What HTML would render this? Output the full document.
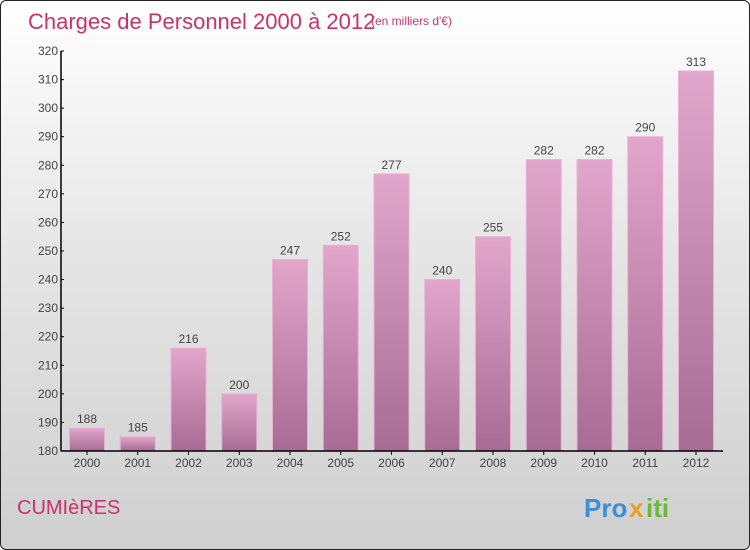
<!DOCTYPE html>
<html><head><meta charset="utf-8"><style>
body{margin:0;width:750px;height:550px;overflow:hidden;font-family:"Liberation Sans","DejaVu Sans",sans-serif}
#frame{position:absolute;left:0;top:0;width:748px;height:548px;border:1px solid #222;border-radius:6px;background:linear-gradient(#ffffff,#e6e6e6 45%,#cfcfcf);overflow:hidden}
</style></head><body>
<div id="frame">
<svg width="750" height="550" id="chart">
<defs>
<linearGradient id="bg" x1="0" y1="0" x2="0" y2="1"><stop offset="0" stop-color="#e2a6cb"/><stop offset="1" stop-color="#a86c94"/></linearGradient>
</defs>
<text x="27" y="28" font-size="22" fill="#c8336b">Charges de Personnel 2000 à 2012</text>
<text x="370" y="24" font-size="12" fill="#c8336b">(en milliers d'€)</text>
<text x="16" y="513" font-size="20" fill="#c8336b">CUMIèRES</text>
<g font-size="26" font-weight="bold">
<text x="583" y="516" fill="#3a8fd8">Pro</text><text x="628" y="516" fill="#e8a020">x</text><text x="645" y="516" fill="#6cb83a">iti</text>
</g>
<g id="bars"></g><g id="axes"></g>
</svg>
</div>
<script>
const categories=["2000","2001","2002","2003","2004","2005","2006","2007","2008","2009","2010","2011","2012"];
const values=[188,185,216,200,247,252,277,240,255,282,282,290,313];
const yTicks=[180,190,200,210,220,230,240,250,260,270,280,290,300,310,320];
const NS="http://www.w3.org/2000/svg";
const y0=450,yMin=180,yMax=320,pxPerUnit=400/(yMax-yMin);
const y=v=>y0-(v-yMin)*pxPerUnit;
const x=i=>86+i*50.75;
const bw=35;
function mk(t,a,p){const e=document.createElementNS(NS,t);for(const k in a)e.setAttribute(k,a[k]);p.appendChild(e);return e;}
const bars=document.getElementById('bars'),axes=document.getElementById('axes');
values.forEach((v,i)=>{
 const r=mk('rect',{x:x(i)-bw/2,y:y(v),width:bw,height:y0-y(v),fill:'url(#bg)',stroke:'#eab0d2','stroke-width':1},bars);
 
 
 const t=mk('text',{x:x(i),y:y(v)-5,'text-anchor':'middle','font-size':12,fill:'#444'},bars);
 t.textContent=v;
 
 
 const c=mk('text',{x:x(i),y:y0+16,'text-anchor':'middle','font-size':12,fill:'#444'},axes);
 c.textContent=categories[i];
 
 
 mk('line',{x1:x(i),x2:x(i),y1:y0,y2:y0+4,stroke:'#000'},axes);
});
const ya=mk('line',{x1:60,x2:60,y1:y(yMax),y2:y0,stroke:'#000','stroke-width':1.5},axes);


const xa=mk('line',{x1:60,x2:722,y1:y0,y2:y0,stroke:'#000','stroke-width':1.5},axes);


yTicks.forEach(v=>{
 mk('line',{x1:60,x2:63,y1:y(v),y2:y(v),stroke:'#000'},axes);
 const t=mk('text',{x:57,y:y(v)+4,'text-anchor':'end','font-size':12,fill:'#444'},axes);
 t.textContent=v;
 
 
});
</script>
</body></html>
